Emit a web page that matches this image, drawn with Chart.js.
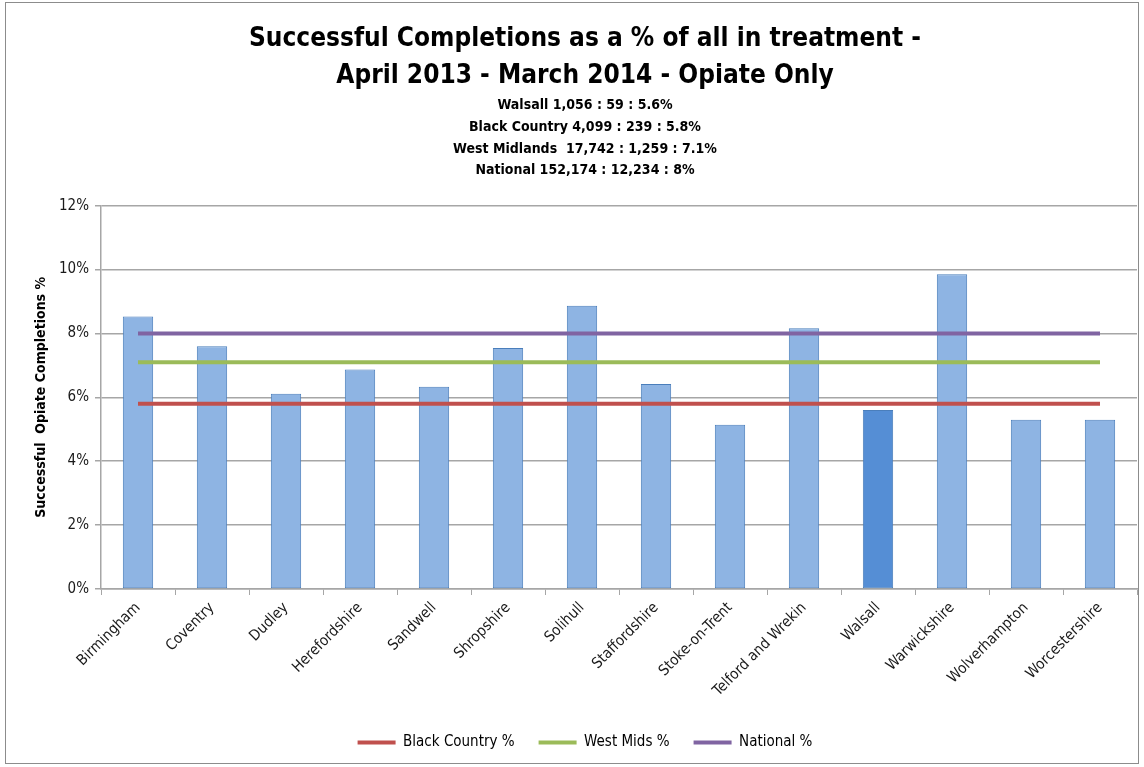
<!DOCTYPE html>
<html>
<head>
<meta charset="utf-8">
<script src="https://cdn.jsdelivr.net/npm/chart.js@4.4.1/dist/chart.umd.min.js"></script>
<style>
    html, body { margin: 0; padding: 0; background: #fff; }
    #wrap { position: relative; width: 1144px; height: 767px; }
    #frame {
        position: absolute; left: 5px; top: 2px; width: 1134px; height: 762px;
        border: 1px solid #8c8c8c; box-sizing: border-box; pointer-events: none;
    }
</style>
</head>
<body>
<div id="wrap">
    <canvas id="chart" width="1144" height="767"></canvas>
    <div id="frame"></div>
</div>
<script>
// Data
const areas = ['Birmingham', 'Coventry', 'Dudley', 'Herefordshire', 'Sandwell', 'Shropshire', 'Solihull',
    'Staffordshire', 'Stoke-on-Trent', 'Telford and Wrekin', 'Walsall', 'Warwickshire', 'Wolverhampton', 'Worcestershire'];
const completions = [8.53, 7.60, 6.11, 6.87, 6.33, 7.54, 8.87, 6.42, 5.14, 8.16, 5.60, 9.85, 5.30, 5.30];
const blackCountry = 5.8;
const westMids = 7.1;
const national = 8.0;
const yTicks = [0, 2, 4, 6, 8, 10, 12];

const titleLines = ['Successful Completions as a % of all in treatment -', 'April 2013 - March 2014 - Opiate Only'];
const subtitleLines = ['Walsall 1,056 : 59 : 5.6%', 'Black Country 4,099 : 239 : 5.8%',
    'West Midlands  17,742 : 1,259 : 7.1%', 'National 152,174 : 12,234 : 8%'];

const FONT = '"DejaVu Sans Condensed", sans-serif';
const highlight = 'Walsall';

const flat = (v) => areas.map(() => v);

const ctx = document.getElementById('chart');
new Chart(ctx, {
    data: {
        labels: areas,
        datasets: [
            {
                type: 'line', label: 'Black Country %', data: flat(blackCountry),
                borderColor: '#C0504D', backgroundColor: '#C0504D', borderWidth: 4,
                pointRadius: 0, pointStyle: 'line', order: 0
            },
            {
                type: 'line', label: 'West Mids %', data: flat(westMids),
                borderColor: '#9BBB59', backgroundColor: '#9BBB59', borderWidth: 4,
                pointRadius: 0, pointStyle: 'line', order: 0
            },
            {
                type: 'line', label: 'National %', data: flat(national),
                borderColor: '#8064A2', backgroundColor: '#8064A2', borderWidth: 4,
                pointRadius: 0, pointStyle: 'line', order: 0
            },
            {
                type: 'bar', label: 'Successful %', data: completions,
                backgroundColor: areas.map(a => a === highlight ? '#558ED5' : '#8EB4E3'),
                borderColor: '#4A7EBB', borderWidth: 1, borderSkipped: false,
                barPercentage: 0.41, categoryPercentage: 1, order: 1
            }
        ]
    },
    options: {
        responsive: false,
        animation: false,
        layout: { padding: { left: 33, right: 7, top: 0, bottom: 7 } },
        plugins: {
            title: {
                display: true, text: titleLines, color: '#000',
                font: { family: FONT, size: 26, weight: 'bold', lineHeight: 1.42 },
                padding: { top: 21, bottom: 0 }
            },
            subtitle: {
                display: true, text: subtitleLines, color: '#000',
                font: { family: FONT, size: 14, weight: 'bold', lineHeight: 1.55 },
                padding: { top: 0, bottom: 24 }
            },
            legend: {
                position: 'bottom',
                labels: {
                    filter: (item) => item.datasetIndex < 3,
                    usePointStyle: true, pointStyleWidth: 38, boxHeight: 4,
                    padding: 24, color: '#000',
                    font: { family: FONT, size: 15 }
                }
            },
            tooltip: { enabled: false }
        },
        scales: {
            x: {
                grid: { display: true, drawOnChartArea: false, drawTicks: true, tickLength: 6, color: '#A6A6A6', offset: true },
                border: { color: '#A6A6A6', width: 1.5 },
                ticks: { maxRotation: 45, minRotation: 45, color: '#1a1a1a', font: { family: FONT, size: 15 }, padding: 4 },
                afterFit: (scale) => { scale.height = 122; }
            },
            y: {
                min: 0, max: 12,
                afterBuildTicks: (scale) => { scale.ticks = yTicks.map(v => ({ value: v })); },
                grid: { color: '#A6A6A6', tickLength: 6, lineWidth: 1.5 },
                border: { color: '#A6A6A6', width: 1.5 },
                ticks: { callback: (v) => v + '%', color: '#1a1a1a', font: { family: FONT, size: 15 }, padding: 6 },
                title: {
                    display: true, text: 'Successful  Opiate Completions %', color: '#000',
                    font: { family: FONT, size: 14, weight: 'bold' }, padding: { top: 0, bottom: 7 }
                },
                afterFit: (scale) => { scale.width = 68; }
            }
        }
    }
});
</script>
</body>
</html>
